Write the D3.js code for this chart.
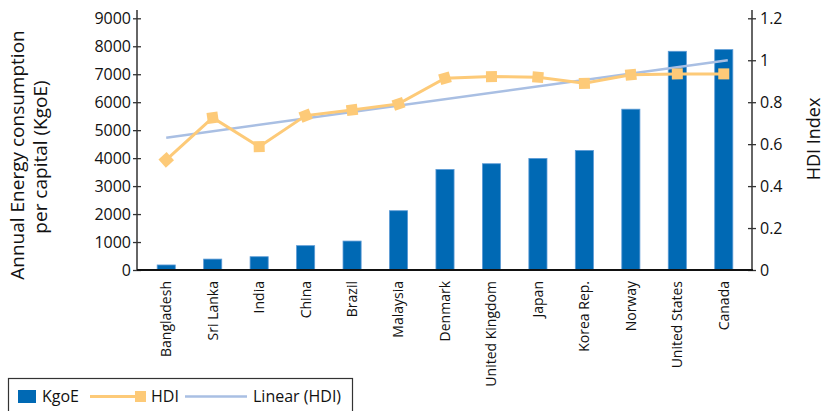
<!DOCTYPE html>
<html><head><meta charset="utf-8">
<script src="https://cdn.jsdelivr.net/npm/d3@7"></script>
<style>body{margin:0;background:#fff}svg{display:block;font-family:"Open Sans",sans-serif}</style>
</head><body><svg id="c" width="825" height="411"></svg>
<script>
const categories = ["Bangladesh","Sri Lanka","India","China","Brazil","Malaysia","Denmark","United Kingdom","Japan","Korea Rep.","Norway","United States","Canada"];
const kgoe = [180, 390, 475, 870, 1035, 2120, 3595, 3800, 3990, 4275, 5750, 7820, 7880];
const hdi = [0.525, 0.726, 0.588, 0.736, 0.763, 0.792, 0.914, 0.922, 0.919, 0.890, 0.931, 0.935, 0.935];
const trendHdi = [0.631, 1.0]; // linear (HDI) at first and last category
const leftTicks = [0,1000,2000,3000,4000,5000,6000,7000,8000,9000];
const rightTicks = [0,0.2,0.4,0.6,0.8,1,1.2];

const svg = d3.select("#c");
const L = 137, R = 752, T = 10, B = 270;
const x = d3.scaleBand().domain(categories).range([143, 747]).paddingInner(0.61).paddingOuter(0.305);
const yL = d3.scaleLinear().domain([0, 9000]).range([B, 18.3]);
const yR = d3.scaleLinear().domain([0, 1.2]).range([B, 18.3]);
const cx = c => x(c) + x.bandwidth()/2;

// bars
svg.append("g").selectAll("rect").data(categories).join("rect")
  .attr("x", c => x(c)).attr("width", x.bandwidth())
  .attr("y", (c,i) => yL(kgoe[i])).attr("height", (c,i) => B - yL(kgoe[i]))
  .attr("fill", "#0069b4").attr("stroke", "#5d9bd6").attr("stroke-width", 0.8);

// axes
function styleAxis(g){
  g.select(".domain").remove();
  g.selectAll(".tick line").attr("stroke", "#333").attr("stroke-width", 1.3);
  g.selectAll(".tick text").attr("font-size", 16).attr("fill", "#111").attr("font-family", "Open Sans");
}
const gl = svg.append("g").attr("transform", `translate(${L},0)`)
  .call(d3.axisLeft(yL).tickValues(leftTicks).tickSize(4).tickPadding(3).tickFormat(d3.format("d")));
styleAxis(gl);
gl.selectAll(".tick line").attr("x2", 4).attr("x1", -4);
gl.selectAll(".tick text").attr("x", -6);
const gr = svg.append("g").attr("transform", `translate(${R},0)`)
  .call(d3.axisRight(yR).tickValues(rightTicks).tickSize(4).tickPadding(3).tickFormat(d => d3.format("")(d)));
styleAxis(gr);
gr.selectAll(".tick line").attr("x1", -4).attr("x2", 4);
gr.selectAll(".tick text").attr("x", 8);
svg.append("line").attr("x1", L).attr("x2", L).attr("y1", T).attr("y2", B).attr("stroke", "#333").attr("stroke-width", 1.5);
svg.append("line").attr("x1", R).attr("x2", R).attr("y1", T).attr("y2", B).attr("stroke", "#333").attr("stroke-width", 1.5);
svg.append("line").attr("x1", L).attr("x2", R+1).attr("y1", B).attr("y2", B).attr("stroke", "#111").attr("stroke-width", 2);

// category labels
svg.append("g").selectAll("text").data(categories).join("text")
  .attr("transform", c => `translate(${cx(c)},281) rotate(-90)`)
  .attr("text-anchor", "end").attr("dy", "0.35em")
  .attr("font-size", 14).attr("fill", "#111").text(c => c);

// trend line
svg.append("line")
  .attr("x1", cx(categories[0])).attr("y1", yR(trendHdi[0]))
  .attr("x2", cx(categories[categories.length-1]) + 4).attr("y2", yR(trendHdi[1]))
  .attr("stroke", "#a9bfe3").attr("stroke-width", 2.5);

// HDI line
const pts = categories.map((c,i) => [cx(c), yR(hdi[i])]);
svg.append("path").attr("d", d3.line()(pts)).attr("fill", "none")
  .attr("stroke", "#fdca78").attr("stroke-width", 3);
svg.append("g").selectAll("rect").data(pts).join("rect")
  .attr("x", -5.5).attr("y", -5.5).attr("width", 11).attr("height", 11)
  .attr("fill", "#fdca78")
  .attr("transform", (p,i) => {
    const a = pts[Math.max(0,i-1)], b = pts[Math.min(pts.length-1,i+1)];
    const ang = Math.atan2(b[1]-a[1], b[0]-a[0]) * 180/Math.PI;
    return `translate(${p[0]},${p[1]}) rotate(${ang})`;
  });

// axis titles
svg.append("text").attr("transform", "translate(24,155) rotate(-90)").attr("text-anchor", "middle")
  .attr("font-size", 19).attr("fill", "#111").text("Annual Energy consumption");
svg.append("text").attr("transform", "translate(47,157) rotate(-90)").attr("text-anchor", "middle")
  .attr("font-size", 19).attr("fill", "#111").text("per capital (KgoE)");
svg.append("text").attr("transform", "translate(820,139) rotate(-90)").attr("text-anchor", "middle")
  .attr("font-size", 18).attr("fill", "#111").text("HDI Index");

// legend
const lg = svg.append("g");
lg.append("rect").attr("x", 8.5).attr("y", 378.5).attr("width", 344).attr("height", 40)
  .attr("fill", "#fff").attr("stroke", "#333").attr("stroke-width", 1.2);
lg.append("rect").attr("x", 18).attr("y", 390).attr("width", 18).attr("height", 13).attr("fill", "#0069b4");
lg.append("text").attr("x", 42).attr("y", 402).attr("font-size", 16).attr("fill", "#111").text("KgoE");
lg.append("line").attr("x1", 90).attr("x2", 136).attr("y1", 396.5).attr("y2", 396.5).attr("stroke", "#fdca78").attr("stroke-width", 3);
lg.append("rect").attr("x", 135).attr("y", 391).attr("width", 11).attr("height", 11).attr("fill", "#fdca78");
lg.append("text").attr("x", 151).attr("y", 402).attr("font-size", 16).attr("fill", "#111").text("HDI");
lg.append("line").attr("x1", 185).attr("x2", 247).attr("y1", 396.5).attr("y2", 396.5).attr("stroke", "#a9bfe3").attr("stroke-width", 2.5);
lg.append("text").attr("x", 253).attr("y", 402).attr("font-size", 16).attr("fill", "#111").text("Linear (HDI)");
</script></body></html>
